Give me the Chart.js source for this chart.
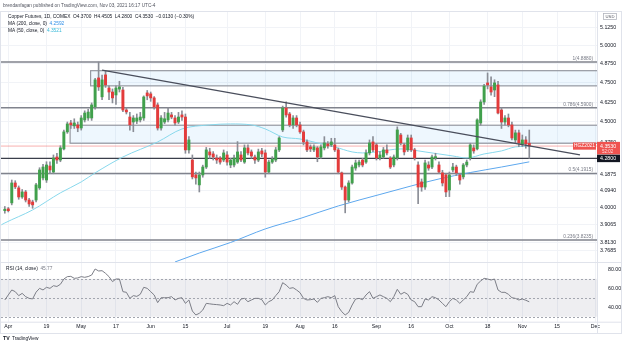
<!DOCTYPE html>
<html>
<head>
<meta charset="utf-8">
<title>Copper Futures, 1D, COMEX</title>
<script src="https://cdn.jsdelivr.net/npm/chart.js@4.4.0/dist/chart.umd.min.js"></script>
<style>
  html, body { margin: 0; background: #ffffff; }
  #wrap { position: relative; width: 622px; height: 346px; overflow: hidden; }
  canvas { position: absolute; left: 0; }
  #price { top: 0; }
  #rsi { top: 254px; }
</style>
</head>
<body>
<div id="wrap">
  <canvas id="rsi" width="622" height="92"></canvas>
  <canvas id="price" width="622" height="270"></canvas>
</div>
<script>
// HGZ2021 daily bars, Mar 31 .. Nov 03 2021
const opens = [
  3.982, 3.992, 4.025, 4.137, 4.109, 4.058, 4.086, 4.041, 4.030, 4.041,
  4.109, 4.166, 4.154, 4.235, 4.200, 4.288, 4.270, 4.336, 4.439, 4.494,
  4.476, 4.482, 4.463, 4.513, 4.525, 4.525, 4.594, 4.782, 4.659, 4.802,
  4.716, 4.690, 4.671, 4.709, 4.703, 4.575, 4.531, 4.500, 4.505, 4.513,
  4.525, 4.684, 4.678, 4.652, 4.607, 4.463, 4.500, 4.513, 4.544, 4.525,
  4.500, 4.544, 4.531, 4.330, 4.270, 4.183, 4.126, 4.183, 4.229, 4.318,
  4.306, 4.282, 4.282, 4.270, 4.300, 4.241, 4.241, 4.258, 4.300, 4.258,
  4.342, 4.318, 4.288, 4.270, 4.324, 4.312, 4.200, 4.258, 4.270, 4.330,
  4.451, 4.588, 4.550, 4.482, 4.525, 4.482, 4.439, 4.378, 4.348, 4.330,
  4.342, 4.288, 4.342, 4.366, 4.360, 4.360, 4.330, 4.195, 4.114, 4.041,
  4.137, 4.223, 4.241, 4.270, 4.258, 4.312, 4.378, 4.360, 4.282, 4.288,
  4.330, 4.282, 4.241, 4.282, 4.420, 4.360, 4.330, 4.402, 4.330, 4.241,
  4.143, 4.114, 4.241, 4.229, 4.282, 4.241, 4.195, 4.183, 4.097, 4.212,
  4.229, 4.183, 4.172, 4.241, 4.282, 4.342, 4.336, 4.494, 4.626, 4.749,
  4.723, 4.703, 4.736, 4.575, 4.500, 4.525, 4.482, 4.390, 4.433, 4.366,
  4.390, 4.370
];
const highs = [
  4.005, 4.000, 4.154, 4.150, 4.120, 4.100, 4.095, 4.050, 4.040, 4.135,
  4.225, 4.245, 4.260, 4.260, 4.300, 4.310, 4.355, 4.450, 4.500, 4.510,
  4.520, 4.500, 4.540, 4.570, 4.580, 4.620, 4.780, 4.888, 4.800, 4.830,
  4.730, 4.710, 4.730, 4.760, 4.720, 4.590, 4.560, 4.540, 4.550, 4.560,
  4.665, 4.700, 4.690, 4.660, 4.620, 4.540, 4.560, 4.590, 4.560, 4.540,
  4.560, 4.570, 4.550, 4.410, 4.300, 4.200, 4.200, 4.240, 4.345, 4.340,
  4.320, 4.300, 4.290, 4.330, 4.320, 4.280, 4.300, 4.380, 4.320, 4.360,
  4.360, 4.330, 4.300, 4.335, 4.340, 4.330, 4.270, 4.290, 4.345, 4.410,
  4.600, 4.627, 4.560, 4.540, 4.540, 4.500, 4.450, 4.390, 4.360, 4.360,
  4.350, 4.360, 4.410, 4.380, 4.400, 4.400, 4.340, 4.200, 4.120, 4.150,
  4.240, 4.270, 4.270, 4.280, 4.330, 4.390, 4.410, 4.370, 4.320, 4.345,
  4.360, 4.290, 4.300, 4.470, 4.430, 4.370, 4.420, 4.420, 4.340, 4.260,
  4.160, 4.270, 4.260, 4.300, 4.310, 4.260, 4.210, 4.190, 4.200, 4.250,
  4.240, 4.190, 4.250, 4.270, 4.370, 4.360, 4.520, 4.640, 4.740, 4.815,
  4.790, 4.770, 4.760, 4.590, 4.540, 4.550, 4.500, 4.450, 4.450, 4.420,
  4.410, 4.4505
];
const lows = [
  3.968, 3.975, 4.014, 4.105, 4.045, 4.050, 4.030, 4.005, 3.995, 4.030,
  4.100, 4.155, 4.140, 4.190, 4.190, 4.250, 4.260, 4.330, 4.430, 4.460,
  4.460, 4.440, 4.450, 4.500, 4.510, 4.510, 4.580, 4.700, 4.640, 4.720,
  4.640, 4.620, 4.610, 4.690, 4.565, 4.550, 4.450, 4.440, 4.490, 4.500,
  4.510, 4.640, 4.630, 4.580, 4.450, 4.450, 4.490, 4.500, 4.520, 4.480,
  4.490, 4.510, 4.310, 4.310, 4.160, 4.130, 4.086, 4.170, 4.220, 4.280,
  4.270, 4.250, 4.245, 4.260, 4.240, 4.225, 4.230, 4.250, 4.260, 4.250,
  4.300, 4.280, 4.250, 4.260, 4.290, 4.170, 4.190, 4.250, 4.260, 4.320,
  4.440, 4.530, 4.470, 4.460, 4.470, 4.430, 4.360, 4.320, 4.320, 4.320,
  4.260, 4.280, 4.330, 4.340, 4.350, 4.320, 4.190, 4.100, 3.970, 4.030,
  4.130, 4.210, 4.230, 4.230, 4.250, 4.300, 4.320, 4.270, 4.270, 4.280,
  4.300, 4.220, 4.230, 4.270, 4.360, 4.300, 4.320, 4.320, 4.270, 4.020,
  4.090, 4.100, 4.210, 4.220, 4.270, 4.190, 4.120, 4.060, 4.060, 4.200,
  4.180, 4.130, 4.160, 4.230, 4.270, 4.310, 4.330, 4.480, 4.610, 4.710,
  4.670, 4.660, 4.550, 4.460, 4.480, 4.470, 4.390, 4.370, 4.350, 4.350,
  4.340, 4.280
];
const closes = [
  3.990, 3.982, 4.137, 4.115, 4.058, 4.086, 4.041, 4.019, 4.014, 4.126,
  4.212, 4.229, 4.241, 4.212, 4.282, 4.270, 4.342, 4.439, 4.488, 4.482,
  4.494, 4.463, 4.525, 4.556, 4.562, 4.607, 4.769, 4.723, 4.769, 4.736,
  4.690, 4.652, 4.716, 4.723, 4.575, 4.563, 4.482, 4.525, 4.525, 4.531,
  4.658, 4.665, 4.652, 4.594, 4.463, 4.525, 4.520, 4.556, 4.531, 4.494,
  4.531, 4.531, 4.330, 4.390, 4.172, 4.166, 4.183, 4.229, 4.330, 4.300,
  4.288, 4.270, 4.258, 4.312, 4.258, 4.270, 4.282, 4.318, 4.270, 4.342,
  4.312, 4.294, 4.270, 4.318, 4.306, 4.200, 4.258, 4.276, 4.330, 4.402,
  4.588, 4.544, 4.482, 4.525, 4.482, 4.439, 4.378, 4.330, 4.336, 4.348,
  4.288, 4.348, 4.372, 4.354, 4.378, 4.330, 4.200, 4.114, 4.041, 4.137,
  4.229, 4.253, 4.258, 4.241, 4.312, 4.372, 4.330, 4.282, 4.300, 4.330,
  4.312, 4.229, 4.288, 4.451, 4.372, 4.318, 4.402, 4.330, 4.282, 4.114,
  4.114, 4.253, 4.223, 4.288, 4.290, 4.200, 4.137, 4.086, 4.183, 4.229,
  4.195, 4.154, 4.241, 4.258, 4.360, 4.324, 4.513, 4.626, 4.729, 4.736,
  4.690, 4.749, 4.556, 4.500, 4.525, 4.482, 4.402, 4.433, 4.372, 4.390,
  4.366, 4.353
];

// RSI(14) per bar
const rsi14 = [
  47.7, 53.0, 58.3, 56.5, 52.3, 54.7, 51.2, 49.4, 48.8, 56.0,
  60.0, 58.3, 61.1, 60.0, 62.8, 62.0, 64.3, 69.9, 72.4, 72.7,
  70.6, 71.0, 72.4, 71.7, 72.5, 74.1, 80.5, 78.4, 78.7, 75.9,
  72.4, 67.1, 69.9, 69.9, 56.5, 55.8, 49.4, 52.3, 51.5, 53.7,
  61.1, 60.0, 56.5, 53.0, 44.9, 50.1, 50.1, 50.1, 51.2, 47.7,
  49.4, 50.1, 44.1, 47.7, 36.0, 31.8, 33.6, 37.1, 44.1, 43.6,
  43.1, 42.8, 42.4, 41.7, 44.1, 42.4, 45.9, 43.1, 48.7, 49.4,
  45.9, 47.7, 49.4, 49.4, 48.0, 42.4, 45.9, 47.7, 52.3, 56.5,
  66.0, 63.5, 60.0, 60.7, 58.3, 55.4, 49.4, 47.7, 48.0, 48.7,
  45.2, 49.4, 50.1, 51.2, 50.1, 52.3, 40.6, 35.3, 31.8, 34.6,
  42.4, 48.7, 49.4, 48.0, 53.0, 56.5, 49.4, 51.2, 53.0, 51.2,
  49.4, 45.9, 51.2, 59.0, 53.7, 55.8, 53.7, 47.7, 45.9, 40.6,
  40.6, 48.7, 47.7, 51.2, 50.1, 47.7, 44.1, 40.6, 45.9, 49.4,
  47.7, 44.1, 47.7, 51.2, 56.5, 55.8, 64.3, 67.8, 70.6, 69.9,
  68.8, 69.9, 58.3, 55.8, 55.8, 53.7, 50.1, 49.4, 47.7, 48.7,
  47.4, 45.77
];

// moving averages (bar index, value)
const ma50At = [-1, 0, 8, 16, 22, 26, 34, 44, 51, 59, 65, 71, 75, 80, 85, 90, 95, 100, 103, 107, 114, 121, 129, 133, 138, 143, 147, 151];
const ma50 = [3.905, 3.915, 3.986, 4.081, 4.143, 4.195, 4.288, 4.378, 4.457, 4.482, 4.488, 4.482, 4.457, 4.408, 4.396, 4.372, 4.348, 4.318, 4.312, 4.318, 4.336, 4.318, 4.294, 4.282, 4.306, 4.324, 4.348, 4.3521];
const ma200At = [49, 56, 65, 75, 85, 96, 108, 117, 125, 134, 143, 151];
const ma200 = [3.710, 3.756, 3.811, 3.883, 3.939, 4.008, 4.072, 4.120, 4.160, 4.197, 4.229, 4.2592];

// drawings
const trendAt = [28, 165.6];
const trendPrice = [4.833, 4.300];
const fibRatios = [1, 0.786, 0.5, 0.236];
const fibPrices = [4.888, 4.59, 4.1915, 3.8235];
const zoneFrom = [24.7, 18.8];
const zoneHigh = [4.83, 4.48];
const zoneLow = [4.73, 4.37];
const supportLevel = 4.28;

// axes
const priceTicks = [5.125, 5.0, 4.875, 4.75, 4.625, 4.5, 4.375, 4.1875, 4.094, 4.0, 3.9065, 3.813, 3.7685];
const rsiTicks = [80, 60, 40];
const rsiGuides = [70, 50, 30];
const holidays = ['2021-04-02', '2021-05-31', '2021-07-05', '2021-09-06', '2021-11-25'];
const tickDates = ['2021-04-01', '2021-04-19', '2021-05-03', '2021-05-17', '2021-06-01', '2021-06-15',
  '2021-07-01', '2021-07-19', '2021-08-02', '2021-08-16', '2021-09-01', '2021-09-16',
  '2021-10-01', '2021-10-18', '2021-11-01', '2021-11-15', '2021-12-01'];
const tickLabels = ['Apr', '19', 'May', '17', 'Jun', '15', 'Jul', '19', 'Aug', '16', 'Sep', '16',
  'Oct', '18', 'Nov', '15', 'Dec'];

// session calendar -> bar index for each date label
function tradingDays(from, to) {
  const out = [];
  const d = new Date(from + 'T00:00:00Z');
  const end = new Date(to + 'T00:00:00Z');
  while (d <= end) {
    const s = d.toISOString().slice(0, 10);
    const wd = d.getUTCDay();
    if (wd !== 0 && wd !== 6 && !holidays.includes(s)) out.push(s);
    d.setUTCDate(d.getUTCDate() + 1);
  }
  return out;
}
const days = tradingDays('2021-03-31', '2021-12-01');
const tickIdx = tickDates.map(d => days.indexOf(d));

const UP = '#41a04c';
const DOWN = '#e33b3b';
const WICK = '#8a8d96';
const GRID = '#f1f3f7';
const FRAME = '#e0e3eb';
const TEXT = '#131722';
const FONT = '"Liberation Sans", Arial, sans-serif';
const font = (size, weight) => `${weight || 'normal'} ${size}px ${FONT}`;
const signed = (v, d) => (v < 0 ? '\u2212' : '+') + Math.abs(v).toFixed(d);

Chart.defaults.font.family = FONT;
Chart.defaults.color = TEXT;

function drawRuns(ctx, x, y, runs) {
  runs.forEach(([text, color]) => {
    ctx.fillStyle = color;
    ctx.fillText(text, x, y);
    x += ctx.measureText(text).width;
  });
}

const pricePane = {
  id: 'pricePane',
  beforeDatasetsDraw(chart) {
    const { ctx, chartArea: a, scales: { x, y } } = chart;
    ctx.save();
    ctx.beginPath();
    ctx.rect(a.left, a.top, a.width, a.height);
    ctx.clip();

    // price zones
    zoneFrom.forEach((from, k) => {
      const left = x.getPixelForValue(from);
      const top = y.getPixelForValue(zoneHigh[k]);
      const bottom = y.getPixelForValue(zoneLow[k]);
      ctx.fillStyle = 'rgba(33, 150, 243, 0.08)';
      ctx.fillRect(left, top, a.right - left, bottom - top);
      ctx.strokeStyle = '#9598a1';
      ctx.lineWidth = 1.2;
      ctx.strokeRect(left, top, a.right - left + 4, bottom - top);
    });

    // fibonacci retracement levels
    ctx.strokeStyle = '#80838d';
    ctx.lineWidth = 1.5;
    fibPrices.forEach(p => {
      const py = y.getPixelForValue(p);
      ctx.beginPath();
      ctx.moveTo(a.left, py);
      ctx.lineTo(a.right, py);
      ctx.stroke();
    });

    // support
    const sy = y.getPixelForValue(supportLevel);
    ctx.strokeStyle = '#3a3e4a';
    ctx.lineWidth = 1.4;
    ctx.beginPath();
    ctx.moveTo(a.left, sy);
    ctx.lineTo(a.right, sy);
    ctx.stroke();

    // last close
    const ly = y.getPixelForValue(closes[closes.length - 1]);
    ctx.strokeStyle = 'rgba(239, 83, 80, 0.45)';
    ctx.lineWidth = 1;
    ctx.beginPath();
    ctx.moveTo(a.left, ly);
    ctx.lineTo(a.right, ly);
    ctx.stroke();
    ctx.restore();
  },
  afterDraw(chart) {
    const { ctx, chartArea: a, scales: { y } } = chart;
    const n = closes.length - 1;
    ctx.save();

    // frame
    ctx.strokeStyle = FRAME;
    ctx.lineWidth = 1;
    ctx.beginPath();
    ctx.moveTo(0, a.top - 0.5); ctx.lineTo(622, a.top - 0.5);
    ctx.moveTo(0.5, a.top); ctx.lineTo(0.5, a.bottom);
    ctx.moveTo(621.5, a.top); ctx.lineTo(621.5, a.bottom);
    ctx.stroke();

    // header
    ctx.textAlign = 'left';
    ctx.textBaseline = 'middle';
    ctx.font = font(4.7);
    ctx.fillStyle = '#50535e';
    ctx.fillText('brendanfagan published on TradingView.com, Nov 03, 2021 16:17 UTC-4', 3, 6);

    // legend
    const chg = closes[n] - closes[n - 1];
    const pct = chg / closes[n - 1] * 100;
    ctx.font = font(4.8);
    drawRuns(ctx, 8, 17, [
      ['Copper Futures, 1D, COMEX  ', TEXT],
      [`O${opens[n].toFixed(4)}  H${highs[n].toFixed(4)}  L${lows[n].toFixed(4)}  C${closes[n].toFixed(4)}  ${signed(chg, 4)} (${signed(pct, 2)}%)`, TEXT]
    ]);
    drawRuns(ctx, 8, 24, [['MA (200, close, 0)  ', TEXT], [ma200[ma200.length - 1].toFixed(4), '#2f8fe8']]);
    drawRuns(ctx, 8, 31, [['MA (50, close, 0)  ', TEXT], [ma50[ma50.length - 1].toFixed(4), '#35b8d8']]);

    // fib labels
    ctx.font = font(4.8);
    ctx.textAlign = 'right';
    ctx.textBaseline = 'alphabetic';
    ctx.fillStyle = '#787b86';
    fibPrices.forEach((p, k) => {
      ctx.fillText(`${fibRatios[k]}(${p.toFixed(4)})`, a.right - 4, y.getPixelForValue(p) - 2);
    });

    // support tag on the axis
    const sy = y.getPixelForValue(supportLevel);
    ctx.fillStyle = '#131722';
    ctx.fillRect(a.right, sy - 3.8, 622 - a.right - 2, 7.6);
    ctx.fillStyle = '#ffffff';
    ctx.textAlign = 'left';
    ctx.textBaseline = 'middle';
    ctx.font = font(5.3);
    ctx.fillText(supportLevel.toFixed(4), a.right + 3, sy);

    // last price tags
    const ly = y.getPixelForValue(closes[n]);
    ctx.fillStyle = '#ef5350';
    ctx.fillRect(a.right - 24, ly - 3.6, 23, 7.2);
    ctx.fillRect(a.right, ly - 4.2, 622 - a.right - 2, 12.4);
    ctx.fillStyle = '#ffffff';
    ctx.font = font(4.8);
    ctx.textAlign = 'center';
    ctx.fillText('HGZ2021', a.right - 12.5, ly);
    ctx.textAlign = 'left';
    ctx.font = font(5.3);
    ctx.fillText(closes[n].toFixed(4), a.right + 3, ly);
    ctx.font = font(4.5);
    ctx.fillStyle = '#ffd9d9';
    ctx.fillText('52:02', a.right + 5, ly + 5.6);

    // currency
    ctx.strokeStyle = '#b2b5be';
    ctx.lineWidth = 0.8;
    ctx.strokeRect(603.5, 13.5, 13, 6);
    ctx.fillStyle = '#50535e';
    ctx.font = font(4.2);
    ctx.textAlign = 'center';
    ctx.fillText('USD', 610, 16.6);
    ctx.restore();
  }
};

const rsiPane = {
  id: 'rsiPane',
  beforeDatasetsDraw(chart) {
    const { ctx, chartArea: a, scales: { y } } = chart;
    ctx.save();
    const top = y.getPixelForValue(rsiGuides[0]);
    const bottom = y.getPixelForValue(rsiGuides[2]);
    ctx.fillStyle = 'rgba(120, 123, 150, 0.13)';
    ctx.fillRect(a.left, top, a.width, bottom - top);
    ctx.strokeStyle = '#a3a6af';
    ctx.lineWidth = 1;
    ctx.setLineDash([2, 2]);
    rsiGuides.forEach(v => {
      const py = Math.round(y.getPixelForValue(v)) + 0.5;
      ctx.beginPath();
      ctx.moveTo(a.left, py);
      ctx.lineTo(a.right, py);
      ctx.stroke();
    });
    ctx.restore();
  },
  afterDraw(chart) {
    const { ctx, chartArea: a } = chart;
    const axisBottom = 79;
    ctx.save();
    ctx.strokeStyle = FRAME;
    ctx.lineWidth = 1;
    ctx.beginPath();
    ctx.moveTo(0, a.top + 0.5); ctx.lineTo(622, a.top + 0.5);
    ctx.moveTo(0, a.bottom + 0.5); ctx.lineTo(622, a.bottom + 0.5);
    ctx.moveTo(0, axisBottom + 0.5); ctx.lineTo(622, axisBottom + 0.5);
    ctx.moveTo(a.right + 0.5, a.top); ctx.lineTo(a.right + 0.5, axisBottom);
    ctx.moveTo(0.5, a.top); ctx.lineTo(0.5, axisBottom);
    ctx.moveTo(621.5, a.top); ctx.lineTo(621.5, axisBottom);
    ctx.stroke();

    ctx.textAlign = 'left';
    ctx.textBaseline = 'middle';
    ctx.font = font(4.8);
    drawRuns(ctx, 6, a.top + 7, [['RSI (14, close)  ', TEXT], [rsi14[rsi14.length - 1].toFixed(2), '#787b86']]);

    // footer mark
    ctx.font = font(5.2, 'bold');
    ctx.fillStyle = TEXT;
    ctx.fillText('TV', 3, 85);
    ctx.font = font(4.8);
    ctx.fillText('TradingView', 12, 85);
    ctx.restore();
  }
};

const xRange = { type: 'linear', min: -1.1, max: 170.5, offset: false };

new Chart(document.getElementById('price'), {
  type: 'bar',
  data: {
    datasets: [
      {
        type: 'line',
        label: 'Trend',
        data: trendAt.map((v, k) => ({ x: v, y: trendPrice[k] })),
        borderColor: '#4a4e5c',
        borderWidth: 1.3,
        pointRadius: 0,
        order: 0
      },
      {
        label: 'Body',
        data: closes.map((c, i) => ({ x: i, y: [opens[i], c] })),
        backgroundColor: closes.map((c, i) => (c >= opens[i] ? UP : DOWN)),
        barThickness: 2.3,
        minBarLength: 1,
        grouped: false,
        order: 1
      },
      {
        label: 'Wick',
        data: highs.map((h, i) => ({ x: i, y: [lows[i], h] })),
        backgroundColor: WICK,
        barThickness: 1,
        grouped: false,
        order: 2
      },
      {
        type: 'line',
        label: 'MA 50',
        data: ma50At.map((v, k) => ({ x: v, y: ma50[k] })),
        borderColor: '#88d8ec',
        borderWidth: 1,
        pointRadius: 0,
        cubicInterpolationMode: 'monotone',
        order: 3
      },
      {
        type: 'line',
        label: 'MA 200',
        data: ma200At.map((v, k) => ({ x: v, y: ma200[k] })),
        borderColor: '#5ea8ee',
        borderWidth: 1,
        pointRadius: 0,
        cubicInterpolationMode: 'monotone',
        order: 4
      }
    ]
  },
  options: {
    responsive: false,
    animation: false,
    devicePixelRatio: 1,
    events: [],
    layout: { padding: { top: 12, left: 1, right: 0, bottom: 8 } },
    plugins: { legend: { display: false }, tooltip: { enabled: false } },
    scales: {
      x: {
        ...xRange,
        afterBuildTicks: s => { s.ticks = tickIdx.map(v => ({ value: v })); },
        afterFit: s => { s.height = 0; },
        ticks: { display: false },
        grid: { color: GRID, drawTicks: false, offset: false },
        border: { display: false }
      },
      y: {
        type: 'logarithmic',
        position: 'right',
        min: 3.7098,
        max: 5.2372,
        afterBuildTicks: s => { s.ticks = priceTicks.map(v => ({ value: v })); },
        afterFit: s => { s.width = 25; },
        ticks: { font: { size: 5.3 }, color: TEXT, padding: 3, autoSkip: false, callback: v => v.toFixed(4) },
        grid: { color: GRID, drawTicks: false },
        border: { color: FRAME }
      }
    }
  },
  plugins: [pricePane]
});

new Chart(document.getElementById('rsi'), {
  type: 'line',
  data: {
    datasets: [{
      label: 'RSI',
      data: rsi14.map((v, i) => ({ x: i, y: v })),
      borderColor: '#7b7d86',
      borderWidth: 1,
      pointRadius: 0
    }]
  },
  options: {
    responsive: false,
    animation: false,
    devicePixelRatio: 1,
    events: [],
    layout: { padding: { top: 8, left: 1, right: 0, bottom: 0 } },
    plugins: { legend: { display: false }, tooltip: { enabled: false } },
    scales: {
      x: {
        ...xRange,
        afterBuildTicks: s => { s.ticks = tickIdx.map(v => ({ value: v })); },
        afterFit: s => { s.height = 24.3; },
        ticks: {
          font: { size: 5.2 }, color: TEXT, padding: 2, autoSkip: false, maxRotation: 0,
          callback: v => tickLabels[tickIdx.indexOf(v)]
        },
        grid: { color: GRID, drawTicks: false },
        border: { display: false }
      },
      y: {
        type: 'linear',
        position: 'right',
        min: 24.7,
        max: 87.9,
        afterBuildTicks: s => { s.ticks = rsiTicks.map(v => ({ value: v })); },
        afterFit: s => { s.width = 25; },
        ticks: { font: { size: 5.3 }, color: TEXT, padding: 3, callback: v => v.toFixed(2) },
        grid: { display: false },
        border: { color: FRAME }
      }
    }
  },
  plugins: [rsiPane]
});
</script>
</body>
</html>
